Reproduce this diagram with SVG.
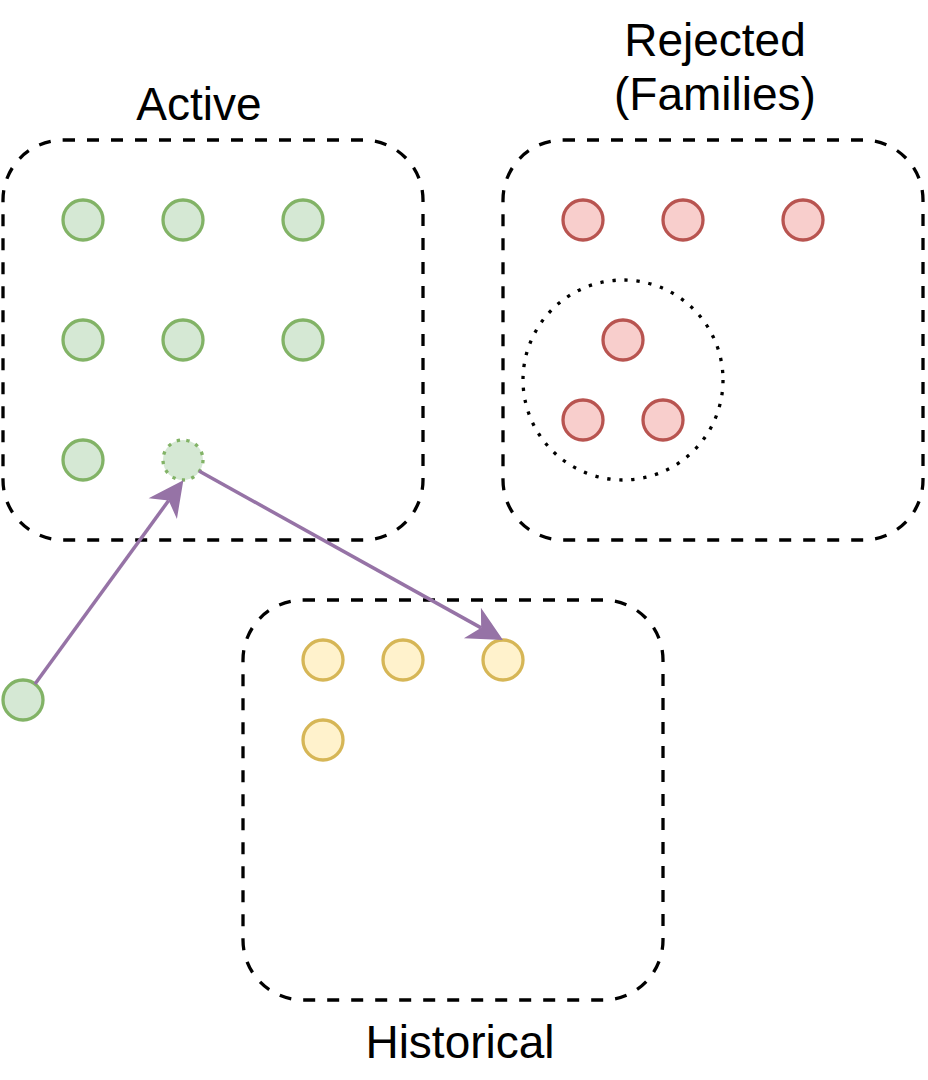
<svg xmlns="http://www.w3.org/2000/svg" width="928" height="1080" viewBox="0 0 928 1080">
  <defs>
    <style>
      .box { fill: #ffffff; stroke: #000000; stroke-width: 3.3; stroke-dasharray: 12 12; }
      .green { fill: #d5e8d4; stroke: #82b366; stroke-width: 3.3; }
      .red { fill: #f8cecc; stroke: #b85450; stroke-width: 3.3; }
      .yellow { fill: #fff2cc; stroke: #d6b656; stroke-width: 3.3; }
      .dotted { stroke-dasharray: 3.3 6.4; }
      .family { fill: none; stroke: #000000; stroke-width: 3.3; stroke-dasharray: 3.3 8.8; }
      .edge { fill: none; stroke: #9673a6; stroke-width: 3.5; }
      .label { font-family: "Liberation Sans", Helvetica, Arial, sans-serif; font-size: 46px; fill: #000000; text-anchor: middle; }
    </style>
    <marker id="arrow" markerUnits="userSpaceOnUse" viewBox="-36 -18 38 36" refX="-25" refY="0" markerWidth="38" markerHeight="36" orient="auto">
      <path d="M0,0 L-35,-17.5 L-25,0 L-35,17.5 Z" fill="#9673a6" stroke="none"/>
    </marker>
  </defs>

  <g id="active">
    <rect class="box" x="3" y="140" width="420" height="400" rx="60" ry="60"/>
    <text class="label" x="199" y="120">Active</text>
  </g>
  <g id="rejected">
    <rect class="box" x="503" y="140" width="420" height="400" rx="60" ry="60"/>
    <text class="label" x="715" y="56">Rejected</text>
    <text class="label" x="715" y="110">(Families)</text>
  </g>
  <g id="historical">
    <rect class="box" x="243" y="600" width="420" height="400" rx="60" ry="60"/>
    <text class="label" x="460" y="1058">Historical</text>
  </g>

  <g id="family-group">
    <ellipse class="family" cx="623" cy="380" rx="100" ry="100"/>
  </g>

  <g id="active-nodes">
    <circle id="a1" class="green" cx="83" cy="220" r="20"/>
    <circle id="a2" class="green" cx="183" cy="220" r="20"/>
    <circle id="a3" class="green" cx="303" cy="220" r="20"/>
    <circle id="a4" class="green" cx="83" cy="340" r="20"/>
    <circle id="a5" class="green" cx="183" cy="340" r="20"/>
    <circle id="a6" class="green" cx="303" cy="340" r="20"/>
    <circle id="a7" class="green" cx="83" cy="460" r="20"/>
    <circle id="a8" class="green dotted" cx="183" cy="460" r="20"/>
  </g>
  <g id="incoming-node">
    <circle class="green" cx="23" cy="700" r="20"/>
  </g>
  <g id="rejected-nodes">
    <circle id="r1" class="red" cx="583" cy="220" r="20"/>
    <circle id="r2" class="red" cx="683" cy="220" r="20"/>
    <circle id="r3" class="red" cx="803" cy="220" r="20"/>
    <circle id="r4" class="red" cx="623" cy="340" r="20"/>
    <circle id="r5" class="red" cx="583" cy="420" r="20"/>
    <circle id="r6" class="red" cx="663" cy="420" r="20"/>
  </g>
  <g id="historical-nodes">
    <circle id="h1" class="yellow" cx="323" cy="660" r="20"/>
    <circle id="h2" class="yellow" cx="403" cy="660" r="20"/>
    <circle id="h3" class="yellow" cx="503" cy="660" r="20"/>
    <circle id="h4" class="yellow" cx="323" cy="740" r="20"/>
  </g>

  <g id="connectors">
    <line class="edge" x1="35" y1="684" x2="168.65" y2="500.5" marker-end="url(#arrow)"/>
    <line class="edge" x1="199" y1="471" x2="481.15" y2="627.85" marker-end="url(#arrow)"/>
  </g>
</svg>
